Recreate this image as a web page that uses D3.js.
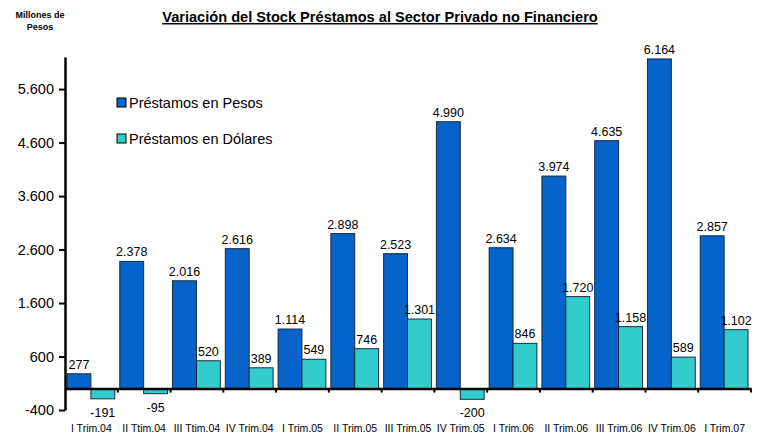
<!DOCTYPE html>
<html>
    <head>
        <meta charset="utf-8">
        <title>Variación del Stock Préstamos</title>
        <script src="https://d3js.org/d3.v7.min.js"></script>
        <style>
            body { margin: 0; background: #fff; font-family: Arial, 'Liberation Sans', sans-serif; }
            .axis path, .axis line { stroke: #000; }
        </style>
    </head>
    <body>
        <script type='text/javascript'>
            var w = 758;
            var h = 433;

            // data
            var trimestres = ['I Trim.04', 'II Ttim.04', 'III Ttim.04', 'IV Trim.04', 'I Trim.05', 'II Trim.05',
                              'III Trim.05', 'IV Trim.05', 'I Trim.06', 'II Trim.06', 'III Trim.06', 'IV Trim.06', 'I Trim.07'];
            var pesos = [277, 2378, 2016, 2616, 1114, 2898, 2523, 4990, 2634, 3974, 4635, 6164, 2857];
            var dolares = [-191, -95, 520, 389, 549, 746, 1301, -200, 846, 1720, 1158, 589, 1102];
            var yTicks = [-400, 600, 1600, 2600, 3600, 4600, 5600];
            var series = ['Préstamos en Pesos', 'Préstamos en Dólares'];
            var colores = ['#0563c9', '#33cccc'];

            var locale = d3.formatLocale({ decimal: ',', thousands: '.', grouping: [3], currency: ['$', ''], minus: '-' });
            var fmt = locale.format(',d');

            var rows = trimestres.map(function(t, i) {
                return { cat: t, vals: [pesos[i], dolares[i]] };
            });

            var xScale = d3.scaleBand()
                            .domain(trimestres)
                            .range([65, 751]);

            var yScale = d3.scaleLinear()
                            .domain([-400, 6200])
                            .range([410, 57]);

            var subScale = d3.scaleBand()
                            .domain([0, 1])
                            .range([2, xScale.bandwidth() - 3]);

            var svg = d3.select('body')
                        .append('svg')
                        .attr('width', w)
                        .attr('height', h);

            // bars
            var groups = svg.selectAll('g.cat')
                .data(rows)
                .enter()
                .append('g')
                .attr('class', 'cat')
                .attr('transform', function(d) { return 'translate(' + xScale(d.cat) + ',0)'; });

            groups.selectAll('rect')
                .data(function(d) { return d.vals; })
                .enter()
                .append('rect')
                .attr('x', function(d, i) { return subScale(i); })
                .attr('width', subScale.bandwidth())
                .attr('y', function(d) { return yScale(Math.max(0, d)); })
                .attr('height', function(d) { return Math.abs(yScale(d) - yScale(0)); })
                .attr('fill', function(d, i) { return colores[i]; })
                .attr('stroke', '#1a2a3a')
                .attr('stroke-width', 1);

            groups.selectAll('text')
                .data(function(d) { return d.vals; })
                .enter()
                .append('text')
                .text(function(d) { return fmt(d); })
                .attr('x', function(d, i) { return subScale(i) + subScale.bandwidth() / 2; })
                .attr('y', function(d) { return d >= 0 ? yScale(d) - 5 : yScale(d) + 18; })
                .attr('text-anchor', 'middle')
                .attr('font-size', '12.5px')
                .attr('fill', '#000');

            // y axis
            var yAxis = d3.axisLeft()
                            .scale(yScale)
                            .tickValues(yTicks)
                            .tickSize(6)
                            .tickSizeOuter(0)
                            .tickFormat(fmt);

            var gy = svg.append('g')
                .attr('class', 'axis')
                .attr('transform', 'translate(65,0)')
                .call(yAxis);
            gy.select('.domain').attr('stroke-width', 2.5);
            gy.selectAll('.tick line').attr('stroke-width', 2);
            gy.selectAll('.tick text')
                .attr('x', -11)
                .attr('font-size', '14.5px')
                .attr('font-family', 'Arial, Liberation Sans, sans-serif');

            // x axis at zero
            var xAxis = d3.axisBottom()
                            .scale(xScale)
                            .tickSize(0)
                            .tickSizeOuter(0);

            var gx = svg.append('g')
                .attr('class', 'axis')
                .attr('transform', 'translate(0,' + yScale(0) + ')')
                .call(xAxis);
            gx.select('.domain').attr('stroke-width', 2.5);
            gx.selectAll('.tick text')
                .attr('y', 36)
                .attr('font-size', '10.5px')
                .attr('font-family', 'Arial, Liberation Sans, sans-serif');

            gx.selectAll('line.sep')
                .data(trimestres)
                .enter()
                .append('line')
                .attr('class', 'sep')
                .attr('x1', function(d) { return xScale(d) + xScale.bandwidth(); })
                .attr('x2', function(d) { return xScale(d) + xScale.bandwidth(); })
                .attr('y1', 0)
                .attr('y2', 4)
                .attr('stroke', '#000')
                .attr('stroke-width', 2);

            // title
            svg.append('text')
                .text('Variación del Stock Préstamos al Sector Privado no Financiero')
                .attr('x', 380)
                .attr('y', 22)
                .attr('text-anchor', 'middle')
                .attr('font-size', '14.6px')
                .attr('font-weight', 'bold')
                .attr('text-decoration', 'underline');

            svg.append('text')
                .attr('x', 40)
                .attr('y', 18)
                .attr('text-anchor', 'middle')
                .attr('font-size', '9px')
                .attr('font-weight', 'bold')
                .selectAll('tspan')
                .data(['Millones de', 'Pesos'])
                .enter()
                .append('tspan')
                .attr('x', 40)
                .attr('dy', function(d, i) { return i ? 12 : 0; })
                .text(function(d) { return d; });

            // legend
            var legend = svg.selectAll('g.legend')
                .data(series)
                .enter()
                .append('g')
                .attr('class', 'legend')
                .attr('transform', function(d, i) { return 'translate(117,' + (98 + i * 36) + ')'; });

            legend.append('rect')
                .attr('width', 9)
                .attr('height', 9)
                .attr('fill', function(d, i) { return colores[i]; })
                .attr('stroke', '#000');

            legend.append('text')
                .text(function(d) { return d; })
                .attr('x', 12)
                .attr('y', 10)
                .attr('font-size', '14.5px');
        </script>
    </body>
</html>
